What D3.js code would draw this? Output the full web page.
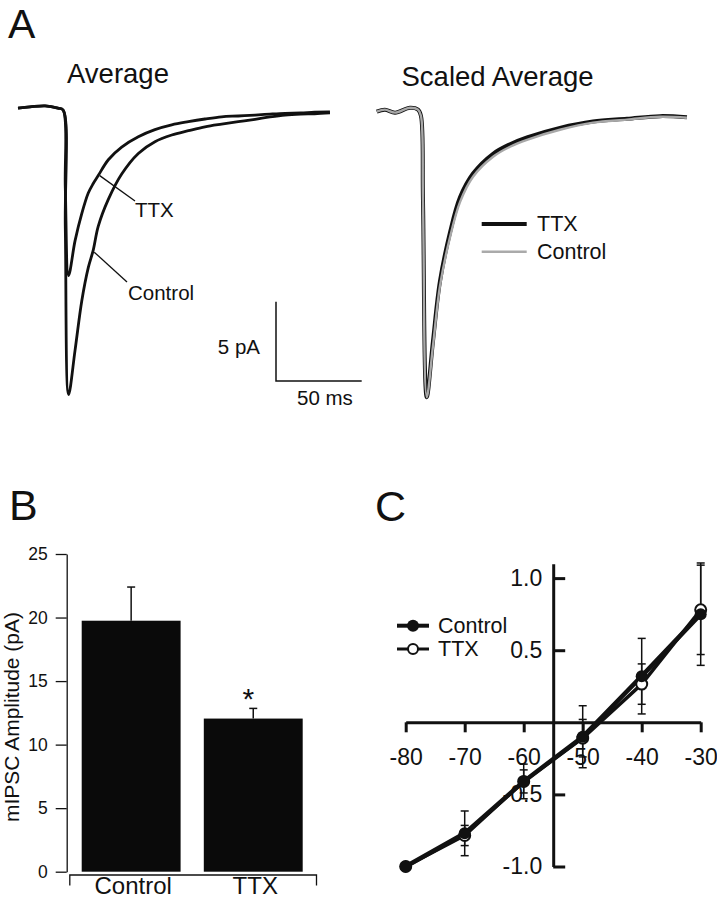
<!DOCTYPE html>
<html><head><meta charset="utf-8">
<script src="https://cdn.jsdelivr.net/npm/d3@7"></script>
<style>
body{margin:0;background:#fff}
svg{display:block}
text{font-family:"Liberation Sans",Arial,Helvetica,sans-serif;fill:#111}
</style>
</head><body>
<svg id="c" width="717" height="900"></svg>
<script>
// ---------- Panel A data (time in ms, current in pA) ----------
const avgTime    = [0, 7, 15.8, 23.3, 26.3, 27.6, 29.5, 33.3, 37.2, 41.0, 43.9, 46.8, 52.7, 60.5, 70.2, 79.9, 89.7, 99.4, 109.1, 118.8, 128.5, 138.3, 147, 155.8, 165, 173, 182];
const avgTTX     = [0.06, 0.13, 0.2, 0.06, -0.06, -5.0, -10.5, -8.3, -6.6, -5.3, -4.7, -4.2, -3.2, -2.4, -1.75, -1.3, -1.0, -0.8, -0.63, -0.49, -0.44, -0.38, -0.32, -0.27, -0.25, -0.2, -0.19];
const avgControl = [0.06, 0.13, 0.2, 0.06, -0.06, -7.5, -18.0, -15.2, -12.1, -10.0, -8.9, -7.4, -5.7, -4.1, -2.8, -2.06, -1.64, -1.37, -1.12, -0.95, -0.8, -0.65, -0.5, -0.38, -0.32, -0.3, -0.25];

const scaledTime    = [0, 4.8, 10.7, 19.4, 24.1, 25.8, 27.0, 29.2, 32.8, 36.9, 42.8, 48.6, 56.2, 67.9, 77.8, 87.7, 106.9, 126.2, 146.0, 165.3, 181.0];
const scaledControl = [0, 0.13, -0.06, 0.25, 0.13, -0.25, -5.6, -18.0, -14.8, -11.0, -7.9, -5.7, -4.1, -2.84, -2.21, -1.77, -1.14, -0.69, -0.50, -0.32, -0.38];
const scaledTTX     = [0, 0.13, -0.06, 0.25, 0.13, -0.25, -5.6, -18.0, -14.5, -10.7, -7.6, -5.4, -3.9, -2.65, -2.05, -1.62, -1.02, -0.62, -0.45, -0.28, -0.35];

const scaleBarPA = 5, scaleBarMS = 50;

// ---------- Panel B data ----------
const categories = ["Control", "TTX"];
const amplitudes = [19.75, 12.05];
const amplitudeSEM = [2.65, 0.8];
const bTicks = [0, 5, 10, 15, 20, 25];

// ---------- Panel C data ----------
const voltages   = [-80, -70, -60, -50, -40, -30];
const controlIV  = [-1.0, -0.77, -0.41, -0.10, 0.32, 0.75];
const controlErr = [0, 0.155, 0.12, 0.215, 0.262, 0.355];
const ttxIV      = [-1.0, -0.785, -0.41, -0.11, 0.265, 0.78];
const ttxErr     = [0, 0.07, 0.08, 0.13, 0.14, 0.31];
const cYTicks = [-1.0, -0.5, 0.5, 1.0];
const cYAxisAt = -55;

const svg = d3.select("#c");

// Panel letters
svg.append("text").attr("x", 8).attr("y", 37.5).style("font-size", "41px").text("A");
svg.append("text").attr("x", 9).attr("y", 520).style("font-size", "43px").text("B");
svg.append("text").attr("x", 375).attr("y", 521).style("font-size", "43px").text("C");

// ================= Panel A left =================
const xA = d3.scaleLinear().domain([0, 50]).range([18, 103.7]);
const yA = d3.scaleLinear().domain([0, -5]).range([109, 188.3]);
const lineA = d3.line().x((d, i) => xA(avgTime[i])).y(d => yA(d)).curve(d3.curveCatmullRom.alpha(0.5));
svg.append("text").attr("x", 67).attr("y", 83).style("font-size", "27.5px").text("Average");
svg.append("path").attr("d", lineA(avgControl)).attr("fill", "none").attr("stroke", "#111").attr("stroke-width", 2.8).attr("stroke-linejoin", "round");
svg.append("path").attr("d", lineA(avgTTX)).attr("fill", "none").attr("stroke", "#111").attr("stroke-width", 2.8).attr("stroke-linejoin", "round");

// leaders and labels
const iT = 11, iC = 10;
svg.append("line").attr("x1", xA(avgTime[iT]) + 1.5).attr("y1", yA(avgTTX[iT])).attr("x2", 135).attr("y2", 201).attr("stroke", "#111").attr("stroke-width", 1.3);
svg.append("text").attr("x", 135).attr("y", 217).style("font-size", "20.5px").text("TTX");
svg.append("line").attr("x1", xA(avgTime[iC]) + 1).attr("y1", yA(avgControl[iC]) + 2).attr("x2", 127).attr("y2", 282).attr("stroke", "#111").attr("stroke-width", 1.3);
svg.append("text").attr("x", 128).attr("y", 299.5).style("font-size", "20.5px").text("Control");

// scale bar
const sbX = 276, sbY = 381;
const sbH = yA(-scaleBarPA) - yA(0), sbW = xA(scaleBarMS) - xA(0);
svg.append("path").attr("d", `M${sbX},${sbY - sbH}V${sbY}H${sbX + sbW}`).attr("fill", "none").attr("stroke", "#111").attr("stroke-width", 1.5);
svg.append("text").attr("x", 260).attr("y", 354).attr("text-anchor", "end").style("font-size", "20.5px").text(scaleBarPA + " pA");
svg.append("text").attr("x", 297).attr("y", 405).style("font-size", "20.5px").text(scaleBarMS + " ms");

// ================= Panel A right =================
const xR = d3.scaleLinear().domain([0, 50]).range([376.7, 462.4]);
const yR = d3.scaleLinear().domain([0, -5]).range([111.7, 191]);
const lineR = d3.line().x((d, i) => xR(scaledTime[i])).y(d => yR(d)).curve(d3.curveCatmullRom.alpha(0.5));
svg.append("text").attr("x", 401.5).attr("y", 86).style("font-size", "27.5px").text("Scaled Average");
svg.append("path").attr("d", lineR(scaledTTX)).attr("fill", "none").attr("stroke", "#111").attr("stroke-width", 4).attr("stroke-linejoin", "round");
svg.append("path").attr("d", lineR(scaledControl)).attr("fill", "none").attr("stroke", "#a8a8a8").attr("stroke-width", 2.4).attr("stroke-linejoin", "round");
// legend
svg.append("line").attr("x1", 481.7).attr("x2", 526.7).attr("y1", 224).attr("y2", 224).attr("stroke", "#111").attr("stroke-width", 4);
svg.append("text").attr("x", 537).attr("y", 231).style("font-size", "21.5px").text("TTX");
svg.append("line").attr("x1", 481.7).attr("x2", 526.7).attr("y1", 251.7).attr("y2", 251.7).attr("stroke", "#aaa").attr("stroke-width", 2.5);
svg.append("text").attr("x", 537).attr("y", 259).style("font-size", "21.5px").text("Control");

// ================= Panel B =================
const yB = d3.scaleLinear().domain([0, 25]).range([871.7, 554]);
const xB = d3.scaleBand().domain(categories).range([81.7, 302.7]).paddingInner(0.19).paddingOuter(0);
const gyB = svg.append("g").attr("transform", "translate(66.7,0)")
  .call(d3.axisLeft(yB).tickValues(bTicks).tickSize(11).tickSizeOuter(0).tickPadding(8));
gyB.selectAll("path,line").attr("stroke", "#111").attr("stroke-width", 1.3);
gyB.selectAll("text").style("font-size", "17.5px").style("font-family", '"Liberation Sans",Arial,sans-serif').attr("fill", "#222");

const xBline = d3.scaleLinear().domain([0, 1]).range([69.3, 316]);
const gxB = svg.append("g").attr("transform", "translate(0,874.5)")
  .call(d3.axisBottom(xBline).tickValues([]).tickSizeOuter(11));
gxB.selectAll("path").attr("stroke", "#111").attr("stroke-width", 1.3);

svg.append("g").selectAll("rect").data(categories).join("rect")
  .attr("x", d => xB(d)).attr("width", xB.bandwidth())
  .attr("y", (d, i) => yB(amplitudes[i])).attr("height", (d, i) => yB(0) - yB(amplitudes[i]))
  .attr("fill", "#0a0a0a");
const errB = svg.append("g").attr("stroke", "#111").attr("stroke-width", 1.5);
categories.forEach((c, i) => {
  const cx = xB(c) + xB.bandwidth() / 2;
  errB.append("line").attr("x1", cx).attr("x2", cx).attr("y1", yB(amplitudes[i])).attr("y2", yB(amplitudes[i] + amplitudeSEM[i]));
  errB.append("line").attr("x1", cx - 4).attr("x2", cx + 4).attr("y1", yB(amplitudes[i] + amplitudeSEM[i])).attr("y2", yB(amplitudes[i] + amplitudeSEM[i]));
});
svg.append("text").attr("x", xB("TTX") + xB.bandwidth() / 2 - 5).attr("y", 709).attr("text-anchor", "middle").style("font-size", "30px").text("*");
svg.selectAll(".catLabel").data(categories).join("text").attr("class", "catLabel")
  .attr("x", d => xB(d) + xB.bandwidth() / 2 + 2).attr("y", 894).attr("text-anchor", "middle").style("font-size", "24px").text(d => d);
svg.append("text").attr("transform", "translate(19,717) rotate(-90)").attr("text-anchor", "middle").style("font-size", "21px").text("mIPSC Amplitude (pA)");

// ================= Panel C =================
const xC = d3.scaleLinear().domain([-80, -30]).range([405.7, 700.7]);
const yC = d3.scaleLinear().domain([-1, 1.1]).range([866.5, 563.7]);
const gxC = svg.append("g").attr("transform", `translate(0,${yC(0)})`)
  .call(d3.axisBottom(xC).tickValues(voltages).tickFormat(d => String(d)).tickSize(10).tickSizeOuter(0).tickPadding(16));
gxC.selectAll("path,line").attr("stroke", "#111").attr("stroke-width", 3);
gxC.selectAll("text").style("font-size", "23px").style("font-family", '"Liberation Sans",Arial,sans-serif').attr("fill", "#111");

const gyC = svg.append("g").attr("transform", `translate(${xC(cYAxisAt)},0)`)
  .call(d3.axisRight(yC).tickValues(cYTicks).tickFormat(d => d.toFixed(1)).tickSize(12).tickSizeOuter(0));
gyC.selectAll("path,line").attr("stroke", "#111").attr("stroke-width", 3);
gyC.selectAll("text").attr("x", -11).attr("text-anchor", "end").style("font-size", "23px").style("font-family", '"Liberation Sans",Arial,sans-serif').attr("fill", "#111");

// error bars
const errC = svg.append("g").attr("stroke", "#111").attr("stroke-width", 1.5);
function drawErr(vals, errs) {
  voltages.forEach((v, i) => {
    if (!errs[i]) return;
    const x = xC(v), y1 = yC(vals[i] - errs[i]), y2 = yC(vals[i] + errs[i]);
    errC.append("line").attr("x1", x).attr("x2", x).attr("y1", y1).attr("y2", y2);
    errC.append("line").attr("x1", x - 4).attr("x2", x + 4).attr("y1", y1).attr("y2", y1);
    errC.append("line").attr("x1", x - 4).attr("x2", x + 4).attr("y1", y2).attr("y2", y2);
  });
}
drawErr(controlIV, controlErr);
drawErr(ttxIV, ttxErr);

const lineC = d3.line().x((d, i) => xC(voltages[i])).y(d => yC(d));
svg.append("path").attr("d", lineC(ttxIV)).attr("fill", "none").attr("stroke", "#111").attr("stroke-width", 3.5).attr("stroke-linejoin", "round");
svg.append("path").attr("d", lineC(controlIV)).attr("fill", "none").attr("stroke", "#111").attr("stroke-width", 4.5).attr("stroke-linejoin", "round");
svg.append("g").selectAll("circle").data(ttxIV).join("circle")
  .attr("cx", (d, i) => xC(voltages[i])).attr("cy", d => yC(d)).attr("r", 5.5)
  .attr("fill", "#fff").attr("stroke", "#111").attr("stroke-width", 2);
svg.append("g").selectAll("circle").data(controlIV).join("circle")
  .attr("cx", (d, i) => xC(voltages[i])).attr("cy", d => yC(d)).attr("r", 6)
  .attr("fill", "#111");

// legend C
svg.append("line").attr("x1", 397).attr("x2", 429).attr("y1", 625.7).attr("y2", 625.7).attr("stroke", "#111").attr("stroke-width", 4);
svg.append("circle").attr("cx", 413).attr("cy", 625.7).attr("r", 6).attr("fill", "#111");
svg.append("text").attr("x", 438).attr("y", 632.5).style("font-size", "21.5px").text("Control");
svg.append("line").attr("x1", 397).attr("x2", 429).attr("y1", 649).attr("y2", 649).attr("stroke", "#111").attr("stroke-width", 3);
svg.append("circle").attr("cx", 413).attr("cy", 649).attr("r", 5).attr("fill", "#fff").attr("stroke", "#111").attr("stroke-width", 2);
svg.append("text").attr("x", 438).attr("y", 656).style("font-size", "21.5px").text("TTX");
</script>
</body></html>
